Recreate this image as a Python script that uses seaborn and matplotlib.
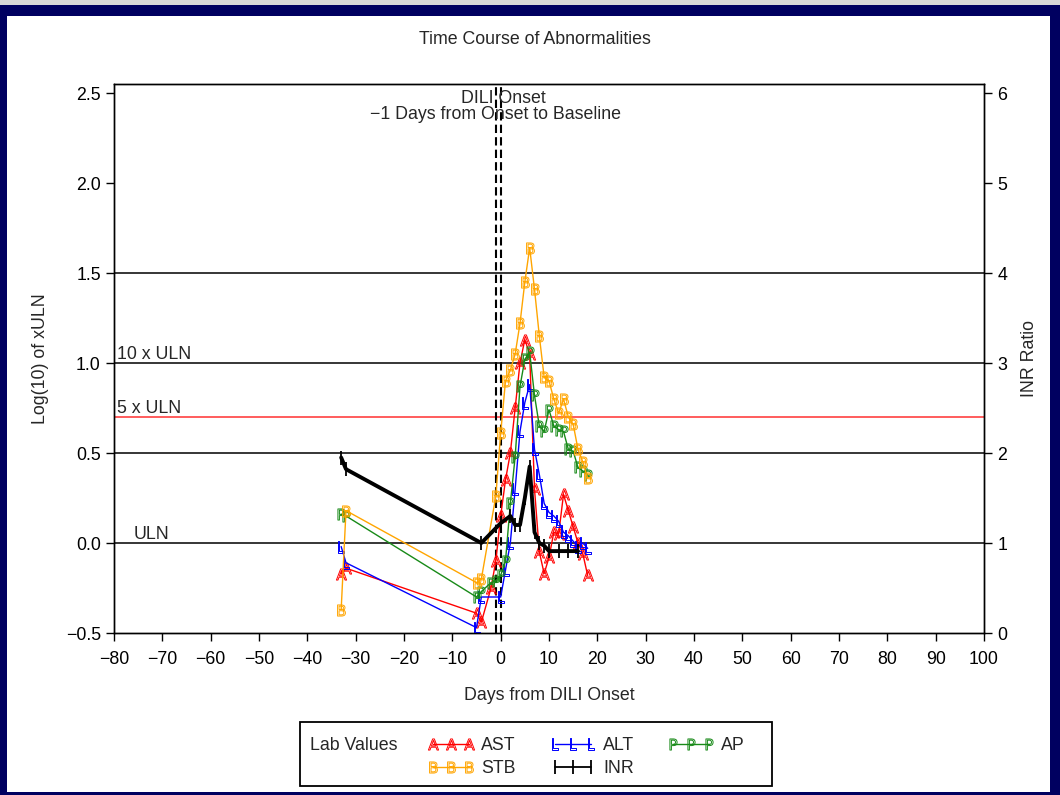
import matplotlib
matplotlib.use("Agg")
import matplotlib.pyplot as plt
from matplotlib.lines import Line2D
from matplotlib.patches import Rectangle
import seaborn as sns

# Lab values, log10(xULN), by day from DILI onset
ast_days = [-33, -32, -5, -4, -2, -1, 0, 1, 2, 3, 4, 5, 6, 7, 8, 9, 10, 11, 12, 13, 14, 15, 16, 17, 18]
ast_vals = [-0.17, -0.14, -0.39, -0.44, -0.25, -0.10, 0.15, 0.35, 0.50, 0.75, 1.00, 1.13, 1.05, 0.30,
            -0.05, -0.17, -0.08, 0.06, 0.05, 0.27, 0.18, 0.09, 0.00, -0.06, -0.18]

alt_days = [-33, -32, -5, -4, 0, 1, 2, 3, 4, 5, 6, 7, 8, 9, 10, 11, 12, 13, 14, 15, 16, 17, 18]
alt_vals = [-0.02, -0.11, -0.47, -0.30, -0.30, -0.15, 0.00, 0.30, 0.62, 0.78, 0.88, 0.52, 0.38,
            0.22, 0.17, 0.15, 0.12, 0.06, 0.04, 0.01, -0.02, 0.00, -0.03]

ap_days = [-33, -32, -5, -4, -2, -1, 0, 1, 2, 3, 4, 5, 6, 7, 8, 9, 10, 11, 12, 13, 14, 15, 16, 17, 18]
ap_vals = [0.16, 0.15, -0.30, -0.27, -0.22, -0.21, -0.18, -0.10, 0.22, 0.48, 0.87, 1.02, 1.06, 0.82,
           0.65, 0.62, 0.74, 0.65, 0.63, 0.62, 0.52, 0.51, 0.42, 0.40, 0.38]

stb_days = [-33, -32, -5, -4, -1, 0, 1, 2, 3, 4, 5, 6, 7, 8, 9, 10, 11, 12, 13, 14, 15, 16, 17, 18]
stb_vals = [-0.37, 0.18, -0.22, -0.20, 0.26, 0.61, 0.90, 0.96, 1.05, 1.22, 1.45, 1.64, 1.41, 1.15,
            0.92, 0.90, 0.80, 0.72, 0.80, 0.70, 0.66, 0.52, 0.45, 0.36]

# INR ratio (right axis)
inr_days = [-33, -32, -4, 0, 2, 3, 4, 5, 6, 7, 8, 9, 10, 12, 14, 16]
inr_vals = [1.95, 1.82, 1.00, 1.22, 1.30, 1.20, 1.20, 1.50, 1.85, 1.12, 1.00, 0.97, 0.91, 0.91, 0.91, 0.91]

x_ticks = list(range(-80, 101, 10))
y_ticks = [-0.5, 0.0, 0.5, 1.0, 1.5, 2.0, 2.5]
inr_ticks = [0, 1, 2, 3, 4, 5, 6]
ref_lines = [0.0, 0.5, 1.0, 1.5]

FS = 12.8

sns.set_style("ticks")
plt.rcParams["font.family"] = ["Liberation Sans", "DejaVu Sans"]
plt.rcParams["axes.unicode_minus"] = True

fig = plt.figure(figsize=(10.6, 7.95), dpi=100)
fig.patch.set_facecolor("#000060")
fig.add_artist(Rectangle((7 / 1060, 3 / 795), 1043 / 1060, 776 / 795,
                         transform=fig.transFigure, facecolor="white", edgecolor="none", zorder=-10))
fig.add_artist(Rectangle((0, 1 - 5 / 795), 1, 5 / 795,
                         transform=fig.transFigure, facecolor="#d8d8d8", edgecolor="none", zorder=-10))

ax = fig.add_axes([114 / 1060, 1 - 633 / 795, 870 / 1060, 549 / 795])
ax2 = ax.twinx()

for y in ref_lines:
    ax.axhline(y, color="black", lw=1.1, zorder=1)
ax.axhline(0.69897, color="#ff3030", lw=1.1, zorder=1)
ax.axvline(-1, color="black", lw=1.5, ls=(0, (4, 2)), zorder=1)
ax.axvline(0, color="black", lw=1.5, ls=(0, (4, 2)), zorder=1)

series = [
    ("AST", ast_days, ast_vals, "#ff0000", r"$\mathrm{A}$"),
    ("ALT", alt_days, alt_vals, "#0000ff", r"$\mathrm{L}$"),
    ("AP", ap_days, ap_vals, "#188a18", r"$\mathrm{P}$"),
    ("STB", stb_days, stb_vals, "#ffa500", r"$\mathrm{B}$"),
]
handles = {}
for name, d, v, c, m in series:
    sns.lineplot(x=d, y=v, ax=ax, color=c, lw=1.0, marker=m, markersize=8,
                 markeredgewidth=0.7, markeredgecolor=c, markerfacecolor="none",
                 estimator=None, sort=False, zorder=3)
    handles[name] = ax.lines[-1]

sns.lineplot(x=inr_days, y=inr_vals, ax=ax2, color="black", lw=2.8, marker="|",
             markersize=10, markeredgewidth=1.3, markeredgecolor="black",
             estimator=None, sort=False, zorder=4)
# thinner sample for the legend, as in the reference
handles["INR"] = Line2D([], [], color="black", lw=1.3, marker="|", markersize=10,
                        markeredgewidth=1.3)

ax.set_xlim(-80, 100)
ax.set_ylim(-0.5, 2.55)
ax2.set_ylim(0, 6.1)
ax.set_xticks(x_ticks)
ax.set_yticks(y_ticks)
ax.set_yticklabels([f"{t:.1f}".replace("-", "\u2212") for t in y_ticks])
ax2.set_yticks(inr_ticks)
ax.tick_params(axis="both", direction="out", length=6, width=1, labelsize=FS, colors="black")
ax2.tick_params(axis="y", direction="out", length=6, width=1, labelsize=FS, colors="black")
ax.tick_params(axis="x", pad=7)
for a in (ax, ax2):
    for s in a.spines.values():
        s.set_visible(True)
        s.set_linewidth(1.0)
        s.set_color("black")

ax.set_xlabel("Days from DILI Onset", fontsize=FS, labelpad=14)
ax.set_ylabel("Log(10) of xULN", fontsize=FS, labelpad=12)
ax2.set_ylabel("INR Ratio", fontsize=FS, labelpad=10)

ax.text(-79.3, 1.0, "10 x ULN", fontsize=FS, va="bottom", ha="left")
ax.text(-79.3, 0.69897, "5 x ULN", fontsize=FS, va="bottom", ha="left")
ax.text(-76, 0.0, "ULN", fontsize=FS, va="bottom", ha="left")
ax.text(0.6, 2.47, "DILI Onset", fontsize=FS, ha="center", va="center")
ax.text(-1, 2.38, "\u22121 Days from Onset to Baseline", fontsize=FS, ha="center", va="center")

fig.text(535 / 1060, 1 - 39 / 795, "Time Course of Abnormalities", fontsize=FS,
         ha="center", va="center")

# legend
fig.add_artist(Rectangle((300 / 1060, 1 - 786 / 795), 472 / 1060, 64 / 795,
                         transform=fig.transFigure, facecolor="white", edgecolor="black", lw=1.3))
fig.text(310 / 1060, 1 - 746 / 795, "Lab Values", fontsize=FS, ha="left", va="center")
order = ["AST", "STB", "ALT", "INR", "AP"]
fig.legend([handles[k] for k in order], order, loc="upper left",
           bbox_to_anchor=(428 / 1060, 1 - 737 / 795), ncol=3, frameon=False,
           numpoints=3, handlelength=2.6, handletextpad=0.4, columnspacing=1.9,
           labelspacing=0.35, fontsize=FS, borderpad=0, borderaxespad=0)

fig.savefig("out.png", dpi=100, facecolor=fig.get_facecolor())
